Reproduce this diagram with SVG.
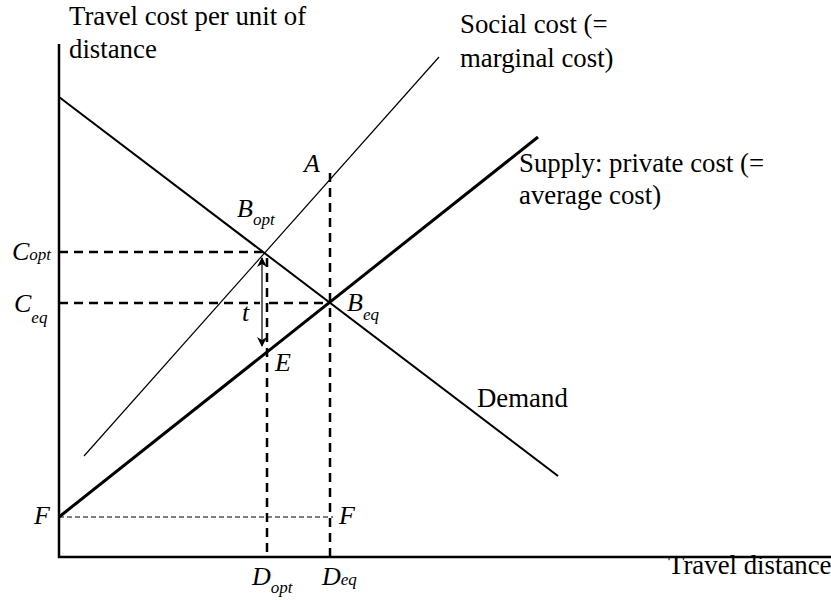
<svg xmlns="http://www.w3.org/2000/svg" width="831" height="600" viewBox="0 0 831 600">
<defs>
<style>
.t{font-family:"Liberation Serif","Times New Roman",serif;font-size:26.8px;fill:#000}
.i{font-family:"Liberation Serif","Times New Roman",serif;font-size:26px;font-style:italic;fill:#000}
.s{font-size:17px}
.ax{stroke:#000;stroke-width:2.5;fill:none}
.dash{stroke:#000;stroke-width:2.5;stroke-dasharray:9 6;fill:none}
.dot{stroke:#000;stroke-width:1.2;stroke-dasharray:5 3;fill:none}
</style>
<marker id="ah" viewBox="0 0 10 10" refX="9" refY="5" markerWidth="10" markerHeight="12" markerUnits="userSpaceOnUse" orient="auto-start-reverse">
<path d="M0,0 L10,5 L0,10 L3,5 Z" fill="#000"/>
</marker>
</defs>
<rect width="831" height="600" fill="#fff"/>
<g id="connectors">
<line class="dash" x1="59" y1="252" x2="265" y2="252"/>
<line class="dash" x1="59" y1="303" x2="329" y2="303"/>
<line class="dash" x1="267" y1="258" x2="267" y2="557"/>
<line class="dash" x1="330" y1="173" x2="330" y2="557"/>
<line class="dot" x1="59" y1="517" x2="333" y2="517"/>
<line id="demand" x1="59" y1="97" x2="558" y2="476" stroke="#000" stroke-width="2"/>
<line id="supply" x1="59" y1="517" x2="538" y2="137" stroke="#000" stroke-width="3"/>
<line id="social" x1="84" y1="456" x2="439" y2="57" stroke="#000" stroke-width="1.2"/>
<line x1="262" y1="262" x2="262" y2="341" stroke="#fff" stroke-width="4"/>
<line id="arrow-t" x1="262" y1="258" x2="262" y2="346" stroke="#000" stroke-width="1.2" marker-start="url(#ah)" marker-end="url(#ah)"/>
<line class="ax" x1="59" y1="44" x2="59" y2="558"/>
<line class="ax" x1="58" y1="557" x2="831" y2="557"/>
</g>
<g id="labels">
<text class="t" x="69" y="25">Travel cost per unit of</text>
<text class="t" x="69" y="58">distance</text>
<text class="t" x="460" y="33">Social cost (=</text>
<text class="t" x="460" y="67">marginal cost)</text>
<text class="t" x="519" y="172">Supply: private cost (=</text>
<text class="t" x="519" y="204">average cost)</text>
<text class="t" x="477" y="407">Demand</text>
<text class="t" x="668" y="574">Travel distance</text>
</g>
<g id="point-A"><text class="i" x="304" y="172">A</text></g>
<g id="point-Bopt"><text class="i" x="237" y="217">B<tspan class="s" dy="8">opt</tspan></text></g>
<g id="point-Beq"><text class="i" x="347" y="311">B<tspan class="s" dy="9">eq</tspan></text></g>
<g id="point-E"><text class="i" x="275" y="371">E</text></g>
<g id="label-t"><text class="i" x="242" y="321">t</text></g>
<g id="label-Copt"><text class="i" x="12" y="260">C<tspan class="s" dy="0">opt</tspan></text></g>
<g id="label-Ceq"><text class="i" x="14" y="312">C<tspan class="s" dy="11">eq</tspan></text></g>
<g id="label-F1"><text class="i" x="34" y="524">F</text></g>
<g id="label-F2"><text class="i" x="339" y="524">F</text></g>
<g id="label-Dopt"><text class="i" x="252" y="585">D<tspan class="s" dy="8">opt</tspan></text></g>
<g id="label-Deq"><text class="i" x="322" y="585">D<tspan class="s" dy="0">eq</tspan></text></g>
</svg>
